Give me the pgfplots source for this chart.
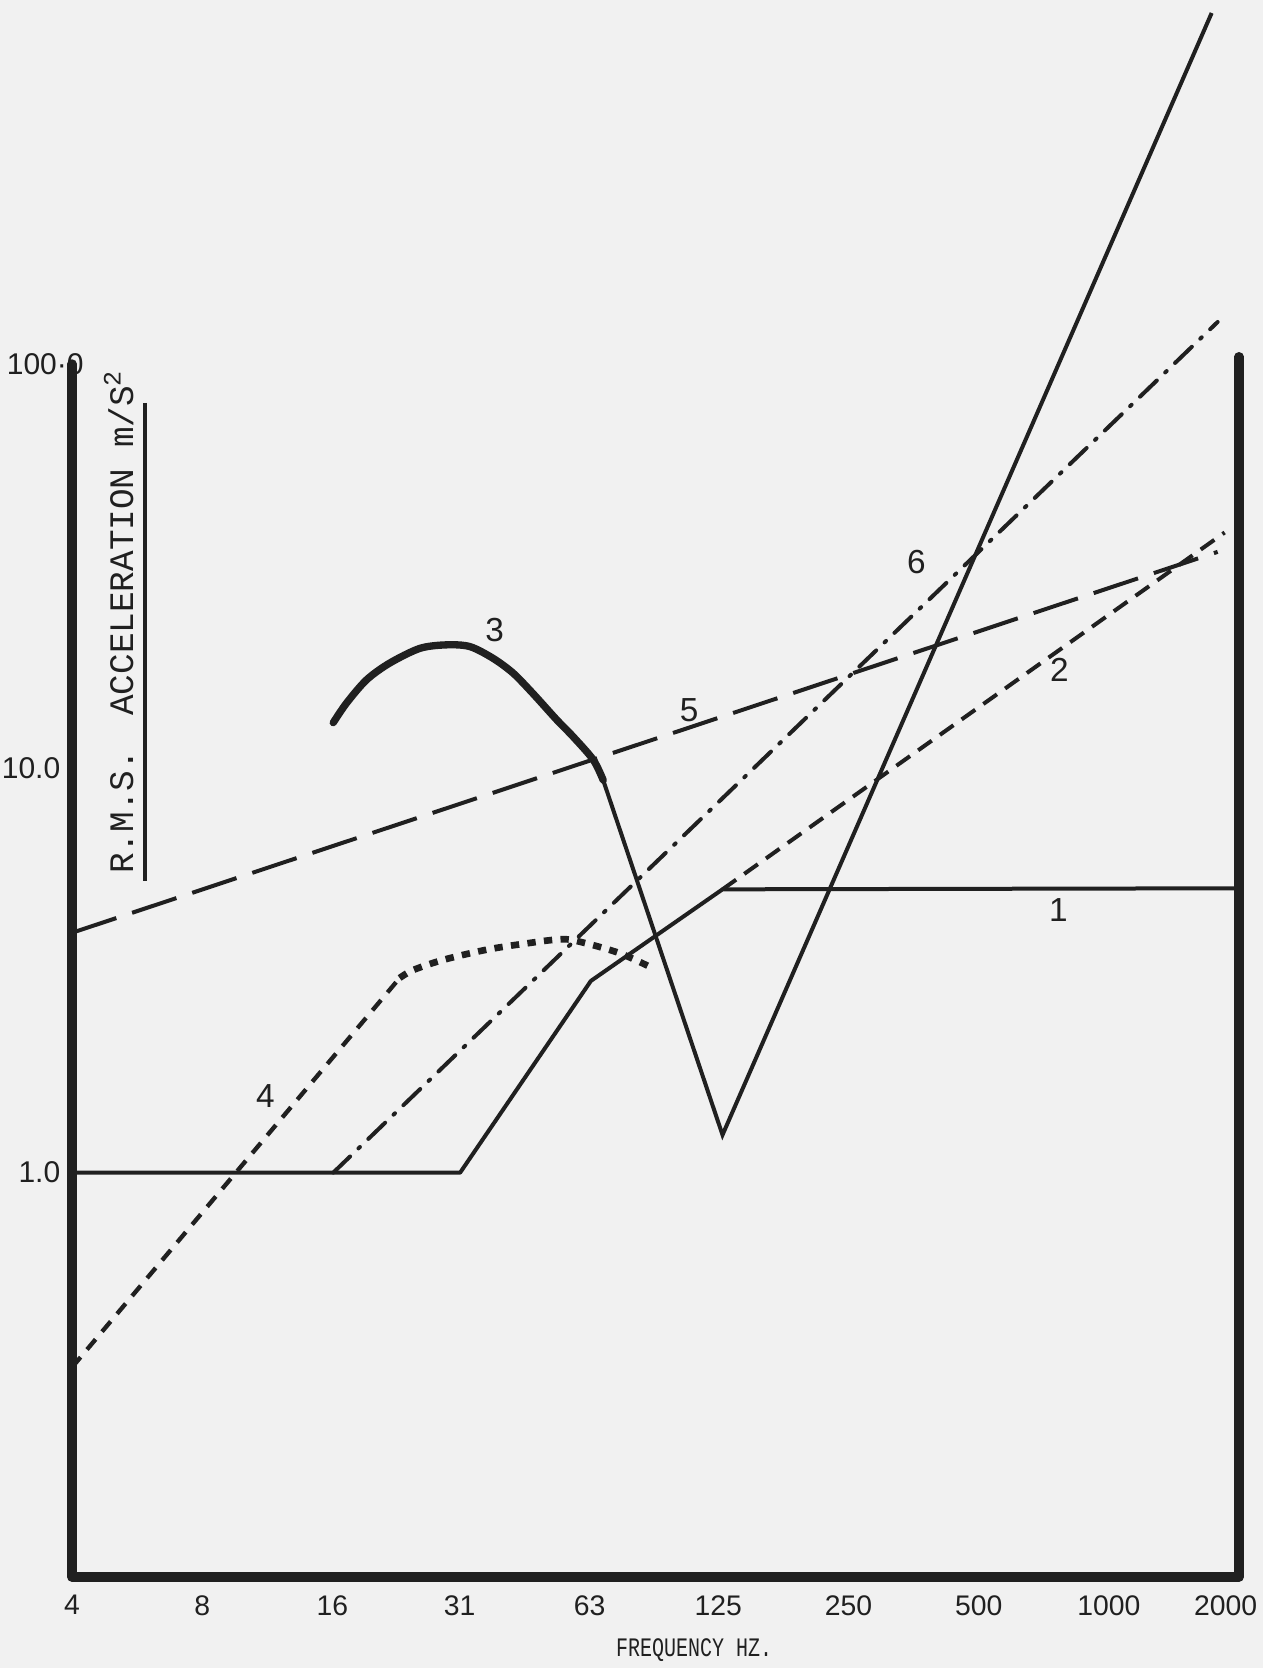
\documentclass[border=0pt]{standalone}
\usepackage{pgfplots}
\pgfplotsset{compat=1.18}
\usepackage{fontspec}
\setmainfont{Liberation Sans}
\newfontfamily\typew{Liberation Mono}
\definecolor{paper}{RGB}{241,241,241}
\definecolor{ink}{RGB}{32,32,32}

\begin{document}
\begin{tikzpicture}
\fill[paper] (-21.6pt,-27.3pt) rectangle (357.3pt,473.1pt);
\begin{axis}[
  at={(0,0)}, anchor=south west,
  scale only axis, width=350.1pt, height=363.9pt,
  xmode=log, ymode=log,
  xmin=4, xmax=2000, ymin=0.1, ymax=100,
  clip=false,
  axis line style={draw=none},
  major tick length=0pt, minor tick length=0pt,
  xminorticks=false, yminorticks=false,
  tick style={draw=none},
  xtick={4,8,16,31.5,63,125,250,500,1000},
  xticklabels={4,8,16,31,63,125,250,500,1000},
  extra x ticks={2000}, extra x tick labels={2000},
  extra x tick style={tick label style={xshift=-4pt}},
  ytick={1,10}, yticklabels={1.0,10.0},
  extra y ticks={100}, extra y tick labels={100·0},
  extra y tick style={tick label style={xshift=7pt, font=\fontsize{10}{11}\selectfont}},
  xticklabel style={font=\fontsize{8.5}{9}\selectfont, text=ink, yshift=-2pt},
  yticklabel style={font=\fontsize{9}{10}\selectfont, text=ink},
  /pgf/number format/assume math mode=true,
]
% curve 1
\addplot[ink, line width=1.2pt, line join=round] coordinates {
  (4,1.0) (31.6,1.0) (63.4,2.98) (127.8,5.02) (2000,5.05)};
% curve 3 (thick part)
\addplot[ink, line width=2.2pt, smooth, tension=0.5, line cap=round] coordinates {
  (16.08,12.97) (17.26,14.5) (19.2,16.55) (21.7,18.2) (25.5,19.8) (29.4,20.2)
  (33.3,20.0) (37.7,18.7) (41.9,17.2) (46.6,15.3) (52.8,13.2) (57.7,11.97)
  (64.2,10.5) (67.7,9.35)};
% curve 3 continued (V and steep rise)
\addplot[ink, line width=1.2pt, line join=miter] coordinates {
  (67.7,9.35) (127.8,1.24) (1729,738)};
% curve 6 dash-dot
\addplot[ink, line width=1.2pt, line cap=round, dash pattern=on 7pt off 3.5pt on 0.6pt off 3.5pt] coordinates {
  (16.08,1.0) (1785,127)};
% curve 5 long dash
\addplot[ink, line width=1.2pt, dash pattern=on 14pt off 5pt] coordinates {
  (4,3.92) (1785,34.3)};
% curve 2 short dash
\addplot[ink, line width=1.2pt, dash pattern=on 5pt off 3pt] coordinates {
  (127.8,5.02) (1853,38.3)};
% curve 4 dashed part
\addplot[ink, line width=1.3pt, dash pattern=on 4pt off 3pt] coordinates {
  (4,0.33) (22.9,3.03)};
% curve 4 dotted curve
\addplot[ink, line width=2pt, smooth, tension=0.5, dash pattern=on 2.5pt off 2.5pt] coordinates {
  (22.9,3.03) (24.6,3.17) (28.9,3.36) (36.4,3.56) (45.0,3.69) (54.7,3.78)
  (61.9,3.69) (73.9,3.49) (86.8,3.23)};
% frame (left, bottom, right)
\draw[ink, line width=2.8pt, line join=round, line cap=round]
  (rel axis cs:0,1) -- (rel axis cs:0,0) -- (rel axis cs:1,0) -- (rel axis cs:1,1.006);
% curve labels
\node[font=\fontsize{10}{10}\selectfont, text=ink] at (axis cs:764,4.47) {1};
\node[font=\fontsize{10}{10}\selectfont, text=ink] at (axis cs:769,17.5) {2};
\node[font=\fontsize{10}{10}\selectfont, text=ink] at (axis cs:38,22) {3};
\node[font=\fontsize{10}{10}\selectfont, text=ink] at (axis cs:11.2,1.55) {4};
\node[font=\fontsize{10}{10}\selectfont, text=ink] at (axis cs:107,13.9) {5};
\node[font=\fontsize{10}{10}\selectfont, text=ink] at (axis cs:359,32.4) {6};
% axis titles
\node[rotate=90, font=\typew\fontsize{10.3}{11}\selectfont, text=ink] at (rel axis cs:0.040,0.787)
  {R.M.S.\hspace{1em}ACCELERATION\hspace{0.6em}m/S\raisebox{0.7ex}{\fontsize{7.5}{7.5}\selectfont 2}};
\draw[ink, line width=1pt] (rel axis cs:0.0626,0.968) -- (rel axis cs:0.0626,0.574);
\node[font=\typew\fontsize{8}{9}\selectfont, text=ink] at (rel axis cs:0.533,-0.060) {\scalebox{0.75}[1]{FREQUENCY HZ.}};
\end{axis}
\pgfresetboundingbox
\path[use as bounding box] (-21.6pt,-27.3pt) rectangle (357.3pt,473.1pt);
\end{tikzpicture}
\end{document}
